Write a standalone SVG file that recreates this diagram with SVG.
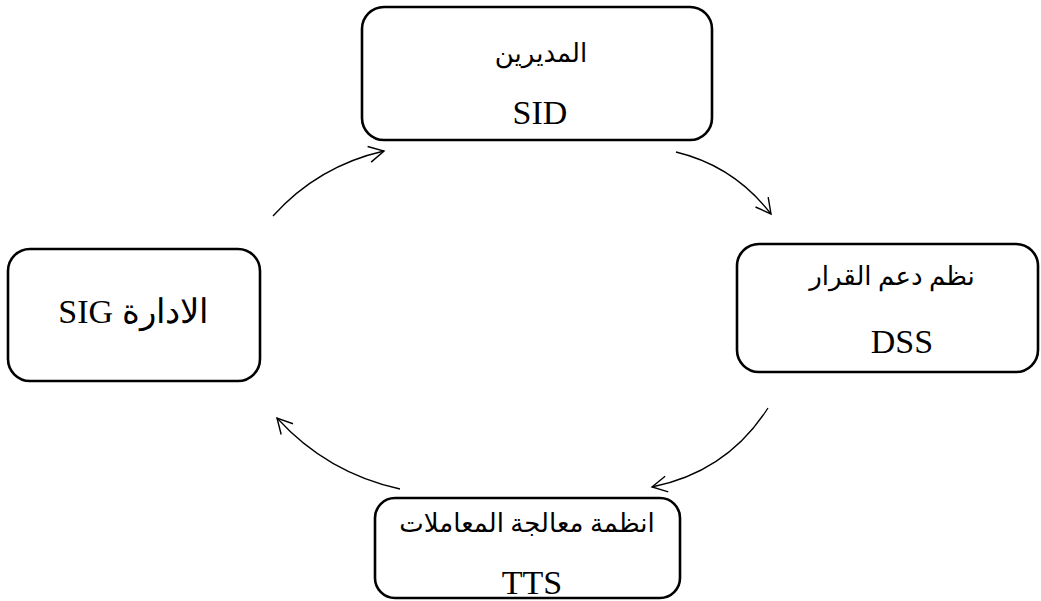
<svg xmlns="http://www.w3.org/2000/svg" width="1041" height="601" viewBox="0 0 1041 601">
<style>
.box{fill:#fff;stroke:#000;stroke-width:2.6}
.lat{font-family:"Liberation Serif","Times New Roman",serif;font-size:34px;fill:#000;text-anchor:middle}
.ar{font-family:"Liberation Serif","DejaVu Sans","Noto Sans",serif;font-size:26px;fill:#000;text-anchor:middle}
.con{fill:none;stroke:#000;stroke-width:1.3;marker-end:url(#ah)}
</style>
<defs>
<marker id="ah" markerUnits="userSpaceOnUse" viewBox="-18 -10 20 20" refX="0" refY="0" markerWidth="20" markerHeight="20" orient="auto">
<path d="M-15,-8 L0,0 L-15,8" fill="none" stroke="#000" stroke-width="1.4"/>
</marker>
</defs>
<rect width="1041" height="601" fill="#fff"/>
<g id="connectors">
<path class="con" d="M273,216 Q318,166 384,151"/>
<path class="con" d="M676,152 Q734,166 771,214"/>
<path class="con" d="M768,408 Q727,472 652,487"/>
<path class="con" d="M400,489 Q327,473 277,418"/>
</g>
<g id="node-sid">
<rect class="box" x="362" y="7" width="350" height="133" rx="22"/>
<text class="ar" x="541" y="62" direction="rtl">المديرين</text>
<text class="lat" x="540" y="124">SID</text>
</g>
<g id="node-dss">
<rect class="box" x="737" y="244" width="301" height="128" rx="22"/>
<text class="ar" x="892" y="285" direction="rtl">نظم دعم القرار</text>
<text class="lat" x="902" y="353">DSS</text>
</g>
<g id="node-sig">
<rect class="box" x="8" y="249" width="252" height="132" rx="22"/>
<text class="lat" x="133" y="323" direction="rtl">الادارة SIG</text>
</g>
<g id="node-tts">
<rect class="box" x="375" y="498" width="305" height="100" rx="20"/>
<text class="ar" x="527" y="532" direction="rtl">انظمة معالجة المعاملات</text>
<text class="lat" x="532" y="594">TTS</text>
</g>
</svg>
